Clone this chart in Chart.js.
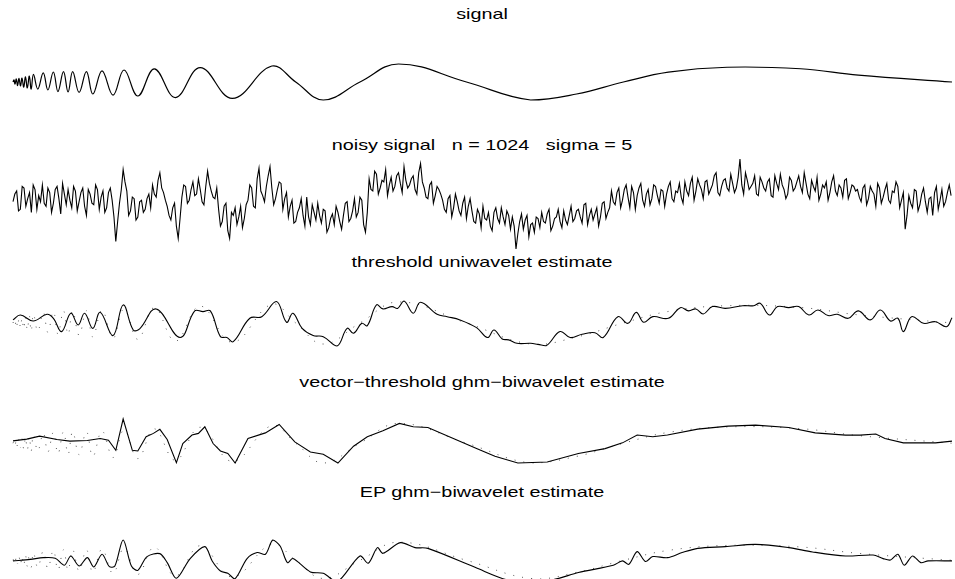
<!DOCTYPE html>
<html>
<head>
<meta charset="utf-8">
<script src="https://cdn.jsdelivr.net/npm/chart.js@4.4.1/dist/chart.umd.min.js"></script>
<style>
  body { margin: 0; width: 955px; height: 579px; overflow: hidden; background: #fff; position: relative; }
  canvas { position: absolute; left: 0; }
  .ttl {
    position: absolute; left: 482px; white-space: pre; line-height: 16px;
    font: 15px "Liberation Sans", Arial, sans-serif; color: #000;
    transform: translateX(-50%) scaleX(1.32);
  }
</style>
</head>
<body>
<script>
// panel titles
const titles = [
  "signal",
  "noisy signal   n = 1024   sigma = 5",
  "threshold uniwavelet estimate",
  "vector\u2212threshold ghm\u2212biwavelet estimate",
  "EP ghm\u2212biwavelet estimate",
];

// true signal (doppler), sample index / value
const sigX = [0, 1.1, 2.2, 3.6, 5.0, 6.5, 8.2, 9.8, 11.7, 13.6, 15.6, 17.8, 19.8, 22.3, 27, 33, 38, 44, 49, 55,
  60, 65, 72, 80, 87, 97, 109, 121, 136, 154, 177, 204, 239, 282, 308, 338, 378, 420, 494, 564,
  614, 665, 714, 778, 858, 921, 1023];
const sigY = [0, 1.3, -1.3, 2.0, -2.3, 2.3, -2.6, 2.6, -3.3, 3.3, -3.9, 3.9, -4.6, 4.9, -4.6, 5.9, -5.2, 6.5, -6.2, 6.8,
  -6.5, 6.8, -6.8, 6.8, -7.8, 7.2, -8.5, 7.8, -9.1, 8.5, -10.1, 9.4, -10.7, 10.4, 0, -11.7, 0, 11.7, 0, -11.7,
  -7.8, 0, 6.4, 9.6, 8.6, 4.5, 0];

// noisy signal: samples 0, 4, 8, ... (noisyA) and 2, 6, 10, ... (noisyB)
const noisyA = [
  1, 8, -4, 10, 3, -6, 9, 5, 12, -2, 7, 0, 11, -7, 6, 9,
  -3, 8, 1, 10, -8, 6, -1, 9, 4, -6, 7, 2, -25, 0, 22,
  8, -5, 3, -9, 2, -4, 6, 12, 4, 20, 7, -2, -11, 0, -23,
  4, 11, 2, 14, 6, 9, -1, 21, 8, 3, -4, -12, 0, -23, -8, -14, -2, -10,
  2, 10, -3, 23, 5, 11, 24, -1, 9, 13, 3, -9, 2, -12, -3, -8, 4, -14, -6, 0,
  -13, -5, -16, -7, -2, -12, -8, 1, -10, 3, -6, 2, -19,
  16, 8, 19, 10, 14, 5, 17, 11, 20, 7, 15, 12, 18, 6, 26, 10, 3, 14, 5, 9,
  2, -6, 5, -3, 1, -8, 4, -2, -5, -13, -7, -2, -11, -15, -6, -10, -3, -14, -8,
  -9, -30, -12, -17, -8, -14, -19, -10, -6, -13, -4, -15, -9, -12, -5, -14,
  -2, -10, -4, -13, 0, -8, -11, -3, -9, 1, -6,
  8, -1, 10, 2, 12, -3, 7, 5, 13, -2, 9, 3, 11, 0, 8, 6, 14, 1, 7, 4,
  14, 5, 17, 8, 12, 3, 15, 9, 18, 7, 11, 16, 8, 13, 10, 29, 6, 15, 11, 18, 5, 14,
  8, 16, 4, 13, 19, 9, 6, 15, 10, 18, 7, 13, 3, 11, 17, 6, 10, 2, 14, 8, 12, 4, 16, 7, 11,
  9, 1, 12, 3, 8, -2, 10, 4, 13, 0, 7, 11, 2, -17, 5, -3, 8, -1, 10, -6, 4, 7, -4, 9, 1, 12,
];
const noisyB = [
  6, -5, 11, -2, 7, 12, -4, 1, 0, 10, -6, 9, 3, 13, -1, 2,
  11, -5, 7, -2, 9, 0, 12, -4, 8, -3, 10, -9, -12, 9, 14,
  -8, 4, -11, 1, -6, 3, -3, 6, 15, 10, 2, -8, -3, -15, -10,
  12, 0, 9, 5, 16, 1, 11, 13, 4, 10, -15, -2, -18, -6, -3, -9, -16, -1,
  12, -2, 16, 8, 1, 18, 10, 3, 14, -4, 7, -2, -13, -6, 3, -15, -9, -1, -11, -8,
  -4, -19, -10, -14, -6, -17, 0, -12, -5, -9, 4, -14, -6,
  9, 21, 6, 15, 22, 12, 8, 18, 13, 24, 10, 16, 9, 20, 14, 4, 12, 0, 11, 6,
  -4, 3, -9, 6, -5, 0, -10, 3, -12, -4, -16, -10, -6, -18, -3, -13, -9, -5, -17,
  -15, -20, -7, -11, -22, -13, -9, -16, -12, -7, -18, -10, -4, -16, -11, -8,
  -12, -5, -9, -1, -14, -4, -7, -15, 0, -10, -3,
  1, 7, -3, 9, 4, 11, -4, 10, 2, 6, -1, 12, 5, 9, -2, 11, 3, 8, 13, 0,
  8, 13, 2, 16, 9, 14, 6, 12, 20, 5, 15, 10, 19, 7, 17, 12, 20, 9, 13, 6, 17, 10,
  14, 5, 18, 9, 12, 3, 17, 8, 14, 11, 20, 6, 15, 8, 2, 12, 14, 7, 18, 5, 10, 15, 3, 12, 8,
  4, 10, -1, 11, 6, 13, 0, 9, 2, 8, 14, -3, 7, -8, 0, 9, -5, 6, 1, 3, -8, 11, 2, -2, 7, 5,
];

// threshold uniwavelet estimate
const uniX = [0, 8, 22, 37, 44, 53, 63, 71, 78, 87, 95, 109, 120, 131, 138, 156, 182, 198, 207, 215,
  226, 233, 240, 258, 271, 287, 298, 305, 315, 327, 338, 353, 364, 371, 380, 386, 396, 403, 413, 419,
  426, 436, 444, 462, 473, 487, 505, 517, 524, 533, 540, 549, 564, 572, 581, 596, 607, 620, 634, 643,
  659, 670, 679, 687, 697, 714, 727, 736, 744, 752, 762, 776, 795, 807, 814, 824, 833, 845, 856, 867,
  877, 888, 898, 910, 921, 934, 945, 956, 964, 970, 979, 992, 1005, 1017, 1023];
const uniY = [1.7, 4.4, 1.1, 4.8, 2.6, -4.8, 5.4, -1.1, 5.4, -3.0, 5.9, -7.0, 10, -3.9, -3.3, 7.8, -8.1, 6.7, 6.3, 6.7,
  -7.6, -8.1, -10.4, 2.6, 3.5, 11.9, 0.4, 5.4, -3.0, -7.0, -7.6, -12.8, -3.0, -5.7, -0.2, -1.5, 10, 7.8, 9.1, 8.1,
  12.2, 5.4, 11.5, 4.8, 3.5, 1.7, -2.6, -8.1, -3.9, -8.9, -9.4, -11.3, -11.3, -11.9, -12.6, -4.8, -8.1, -6.3, -5.4, -8.1,
  3.5, -0.2, 5.9, 0.4, 3.5, 2.6, 8.5, 6.7, 7.8, 5.0, 9.1, 8.1, 9.6, 9.6, 10.9, 4.4, 9.1, 8.5, 9.1, 4.4,
  7.2, 4.1, 4.8, 2.6, 6.7, 1.7, 7.2, 1.1, 2.6, -4.8, 3.5, -0.2, 0.7, -2.1, 2.9];

// vector-threshold ghm-biwavelet estimate
const ghmX = [0, 15, 29, 48, 62, 81, 95, 104, 112, 120, 130, 136, 145, 153, 160, 168, 178, 185, 195, 202,
  209, 218, 226, 234, 242, 256, 275, 290, 307, 324, 338, 354, 371, 386, 403, 421, 436, 452, 505, 525,
  550, 582, 616, 645, 664, 680, 697, 713, 746, 779, 809, 845, 874, 907, 923, 940, 950, 970, 1005, 1023];
const ghmY = [1.4, 2.4, 4.2, 2.2, 1.2, 1.6, 2.8, 1.8, -4.2, 14.3, -4.2, -4.6, 3.8, 5.8, 8.2, 2.2, -11.5, -0.2, 4.8, 5.8,
  9.7, -0.2, -4.6, -6.1, -11.7, 2.8, 6.1, 11.1, 0.8, -5.2, -6.5, -11.7, -1.8, 3.8, 7.3, 11.7, 9.7, 9.3, -3.2, -7.7,
  -11.7, -11.1, -6.1, -3.2, 0.2, 4.8, 3.8, 4.8, 8.3, 10.1, 10.7, 9.3, 6.1, 4.8, 4.8, 5.4, 2.8, 0.2, 0.2, 1.2];

// EP ghm-biwavelet estimate
const epX = [0, 19, 33, 46, 56, 63, 72, 81, 88, 97, 105, 111, 120, 129, 136, 146, 160, 168, 178, 193,
  209, 217, 226, 234, 242, 255, 266, 275, 283, 291, 299, 305, 324, 338, 353, 378, 387, 397, 403, 422,
  438, 452, 504, 538, 564, 588, 616, 654, 664, 671, 680, 689, 697, 713, 729, 746, 776, 809, 845, 871,
  907, 937, 948, 956, 964, 971, 980, 989, 997, 1023];
const epY = [-0.4, 0.6, 1.7, 1.3, -3.2, 2.8, -3.7, 1.7, -4.3, 3.9, -4.1, -3.7, 13.1, -3.7, -6.5, 2.4, 4.3, -1.5, -11.6, 1.1,
  8.8, -0.4, -6.9, -8.4, -11.8, 1.1, 5.0, 3.9, 13.1, 9.2, -1.5, 1.1, -7.5, -8.4, -14, 2.8, -1.9, 8.2, 4.5, 11.4,
  8.2, 7.7, -4.7, -12.5, -13, -12.5, -7.9, -3.2, -0.4, -2.6, 5.6, -0.8, 2.4, 1.7, 5.0, 7.7, 8.8, 10.3, 8.2, 5.4,
  2.8, 3.4, 1.1, 0.2, 3.9, -3.2, 2.8, -1.5, -0.4, -0.4];

const pts = (xs, ys) => xs.map((x, i) => ({ x, y: ys[i] }));
const noisyPts = [];
noisyA.forEach((y, i) => {
  noisyPts.push({ x: i * 4, y });
  noisyPts.push({ x: i * 4 + 2, y: noisyB[i] });
});

const solid = (data, tension, width) => ({
  data, borderColor: "#000", borderWidth: width || 1.1, pointRadius: 0, tension, clip: 6,
});
const dotted = () => ({
  data: pts(sigX, sigY), borderColor: "#555", borderWidth: 1, borderDash: [1, 8],
  pointRadius: 0, tension: 0.4, clip: 6,
});

// panel: title top, chart area top/bottom (page px)
const panels = [
  { title: titles[0], ttlTop: 5, top: 64, bottom: 100, sets: [solid(pts(sigX, sigY), 0.4, 1.2)] },
  { title: titles[1], ttlTop: 136, top: 159, bottom: 249, sets: [solid(noisyPts, 0, 1.1)] },
  { title: titles[2], ttlTop: 253, top: 301, bottom: 346, sets: [solid(pts(uniX, uniY), 0.4), dotted()] },
  { title: titles[3], ttlTop: 373, top: 419, bottom: 463, sets: [solid(pts(ghmX, ghmY), 0), dotted()] },
  { title: titles[4], ttlTop: 483, top: 540, bottom: 582, sets: [solid(pts(epX, epY), 0.3), dotted()] },
];

const PAD = 4;
panels.forEach((p) => {
  const t = document.createElement("div");
  t.className = "ttl";
  t.style.top = p.ttlTop + "px";
  t.textContent = p.title;
  document.body.appendChild(t);

  const c = document.createElement("canvas");
  c.width = 955;
  c.height = p.bottom - p.top + 2 * PAD;
  c.style.top = (p.top - PAD) + "px";
  document.body.appendChild(c);

  const ys = p.sets[0].data.map((d) => d.y);
  new Chart(c, {
    type: "line",
    data: { datasets: p.sets },
    options: {
      responsive: false,
      animation: false,
      layout: { padding: { left: 13, right: 3, top: PAD, bottom: PAD } },
      plugins: { legend: { display: false }, tooltip: { enabled: false } },
      scales: {
        x: { type: "linear", min: 0, max: 1023, display: false },
        y: { min: Math.min(...ys, -11.7), max: Math.max(...ys, 11.7), display: false },
      },
    },
  });
});
</script>
</body>
</html>
